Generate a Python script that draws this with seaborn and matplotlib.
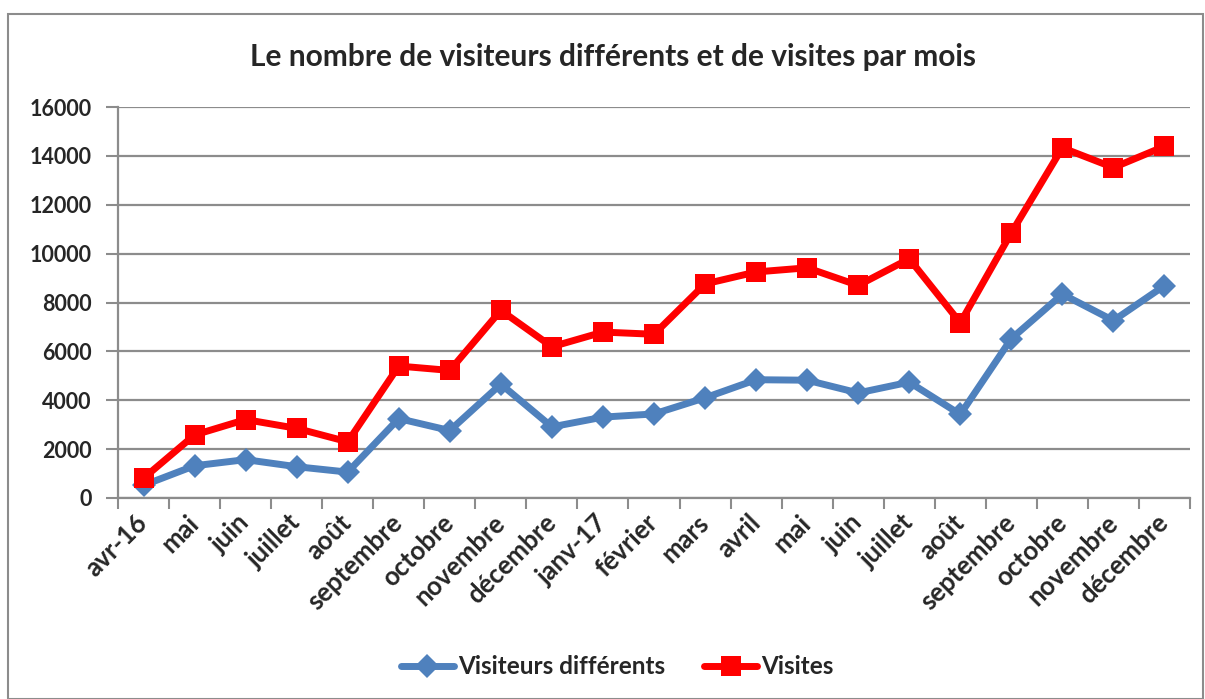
import numpy as np
import pandas as pd
import matplotlib
matplotlib.use("Agg")
import matplotlib.pyplot as plt
from matplotlib.patches import Rectangle
from matplotlib.ticker import FixedLocator, NullFormatter
import seaborn as sns

sns.set_theme(style="whitegrid")
plt.rcParams["font.family"] = ["Lato", "DejaVu Sans"]

# ---------------------------------------------------------------
# data
# ---------------------------------------------------------------
months = [
    "avr-16", "mai", "juin", "juillet", "août", "septembre", "octobre",
    "novembre", "décembre", "janv-17", "février", "mars", "avril", "mai",
    "juin", "juillet", "août", "septembre", "octobre", "novembre", "décembre",
]
visiteurs = [
    520, 1320, 1570, 1280, 1060, 3250, 2760, 4660, 2910, 3310, 3440,
    4100, 4840, 4820, 4300, 4740, 3420, 6520, 8340, 7260, 8690,
]
visites = [
    810, 2580, 3210, 2850, 2300, 5400, 5220, 7680, 6190, 6790, 6700,
    8760, 9250, 9420, 8700, 9790, 7170, 10850, 14330, 13520, 14390,
]

BLUE = "#4F81BD"
RED = "#FF0000"
GRID = "#8C8C8C"

df = pd.DataFrame({"pos": np.arange(len(months)), "visiteurs": visiteurs, "visites": visites})

fig = plt.figure(figsize=(12.05, 6.99), dpi=100)
ax = fig.add_axes([118 / 1205, 1 - 498 / 699, (1190 - 118) / 1205, (498 - 107) / 699])

sns.lineplot(data=df, x="pos", y="visiteurs", ax=ax, color=BLUE, linewidth=5,
             marker="D", markersize=12.5, markeredgewidth=0, label="Visiteurs différents")
sns.lineplot(data=df, x="pos", y="visites", ax=ax, color=RED, linewidth=5,
             marker="s", markersize=15, markeredgewidth=0, label="Visites")

# axes styling
ax.set_xlim(-0.5, len(months) - 0.5)
ax.set_ylim(0, 16000)
ax.set_yticks(np.arange(0, 16001, 2000))
ax.set_yticklabels([str(v) for v in range(0, 16001, 2000)], fontsize=15.5, fontweight="bold")
ax.set_xticks(df["pos"])
ax.set_xticklabels(months, rotation=45, ha="right", va="center",
                   rotation_mode="anchor", fontsize=18.5, fontweight="bold")
ax.xaxis.set_minor_locator(FixedLocator(np.arange(-0.5, len(months), 1.0)))
ax.xaxis.set_minor_formatter(NullFormatter())
ax.tick_params(axis="x", which="major", length=0, pad=15)
ax.tick_params(axis="x", which="minor", length=8, width=1.5, color=GRID, bottom=True)
ax.tick_params(axis="y", length=9, width=1.5, color=GRID, left=True, pad=10)
ax.set_xlabel("")
ax.set_ylabel("")

ax.grid(False, axis="x")
ax.grid(True, axis="y", color=GRID, linewidth=1.6)
for side in ["top", "right"]:
    ax.spines[side].set_visible(False)
for side in ["left", "bottom"]:
    ax.spines[side].set_color(GRID)
    ax.spines[side].set_linewidth(1.6)
ax.set_facecolor("white")

# title and legend
fig.text(613 / 1205, 1 - 57 / 699, "Le nombre de visiteurs différents et de visites par mois",
         ha="center", va="center", fontsize=21.5, fontweight="bold")
ax.legend(loc="center", bbox_to_anchor=(617 / 1205, 1 - 667 / 699),
          bbox_transform=fig.transFigure, ncol=2, frameon=False,
          prop={"size": 17.5, "weight": "bold"}, handlelength=2.2, columnspacing=1.6,
          handletextpad=0.15)

# outer chart border
fig.patches.append(Rectangle((8 / 1205, 0), 1195 / 1205, 1 - 14 / 699, transform=fig.transFigure,
                             fill=False, edgecolor="#8C8C8C", linewidth=1.5))

fig.savefig("out.png", dpi=100, facecolor="white")
